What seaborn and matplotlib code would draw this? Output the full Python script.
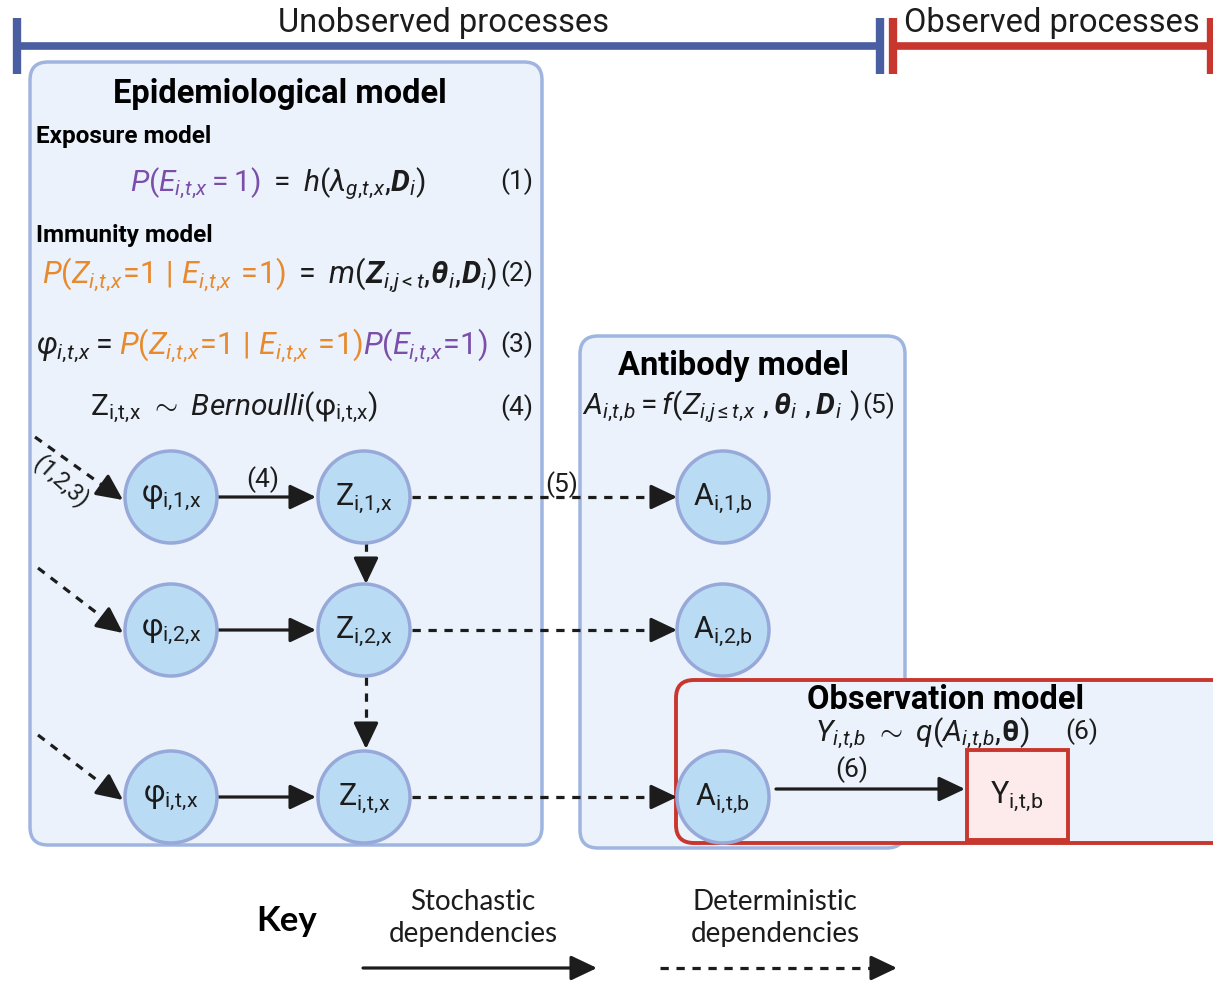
import matplotlib
matplotlib.use('Agg')
import matplotlib.pyplot as plt
import seaborn as sns
from matplotlib.patches import FancyBboxPatch, Circle, Rectangle
import numpy as np

# text content
phi_labels = [r'$\mathregular{φ_{i,\!1,\!x}}$', r'$\mathregular{φ_{i,\!2,\!x}}$', r'$\mathregular{φ_{i,\!t,\!x}}$']
z_labels = [r'$\mathregular{Z_{i,\!1,\!x}}$', r'$\mathregular{Z_{i,\!2,\!x}}$', r'$\mathregular{Z_{i,\!t,\!x}}$']
a_labels = [r'$\mathregular{A_{i,\!1,\!b}}$', r'$\mathregular{A_{i,\!2,\!b}}$', r'$\mathregular{A_{i,\!t,\!b}}$']
y_label = r'$\mathregular{Y_{i,\!t,\!b}}$'
eq_numbers = ['(1)', '(2)', '(3)', '(4)', '(5)', '(6)']
key_labels = ['Stochastic\ndependencies', 'Deterministic\ndependencies']

sns.set_theme(style='white')
plt.rcParams['font.family'] = ['Roboto', 'DejaVu Sans']
plt.rcParams['mathtext.fontset'] = 'custom'
plt.rcParams['mathtext.rm'] = 'Roboto'
plt.rcParams['mathtext.it'] = 'Roboto:italic'
plt.rcParams['mathtext.bf'] = 'Roboto:bold'
plt.rcParams['mathtext.bfit'] = 'Roboto:italic:bold'

blue_bar = '#4a5ea2'
red_bar = '#c8372e'
box_fill = '#ebf2fb'
box_edge = '#9fb5e0'
node_fill = '#badbf4'
node_edge = '#97a9d9'
purple = '#7b4ea9'
orange = '#e8892c'
ink = '#1c1c1c'

W, H = 1213, 981
fig = plt.figure(figsize=(W / 100, H / 100), dpi=100)
ax = fig.add_axes([0, 0, 1, 1])
ax.set_xlim(0, W)
ax.set_ylim(H, 0)
ax.axis('off')
renderer = fig.canvas.get_renderer()


def rich(x, y, parts, size, ha='left'):
    # parts: (text, colour) pairs, or a number = extra gap in px
    items = []
    for p in parts:
        if isinstance(p, (int, float)):
            items.append((None, p))
        else:
            t = ax.text(0, y, p[0], color=p[1], fontsize=size, va='baseline', ha='left', zorder=6)
            items.append((t, t.get_window_extent(renderer).width))
    total = sum(w for _, w in items)
    x0 = x - total / 2 if ha == 'center' else x
    for t, w in items:
        if t is not None:
            t.set_x(x0)
        x0 += w


def head(x0, y0, x1, y1):
    ax.annotate('', xy=(x1, y1), xytext=(x0, y0), zorder=4,
                arrowprops=dict(arrowstyle='-|>,head_length=0.8,head_width=0.38',
                                lw=2.3, color=ink, shrinkA=0, shrinkB=0,
                                mutation_scale=20))


def arrow(x0, y0, x1, y1, dashed=False):
    if not dashed:
        head(x0, y0, x1, y1)
        return
    d = np.array([x1 - x0, y1 - y0], float)
    u = d / np.hypot(*d)
    mx, my = np.array([x1, y1]) - u * 24
    ax.plot([x0, mx], [y0, my], color=ink, lw=2.3, ls=(0, (2.6, 2.4)), zorder=4,
            solid_capstyle='butt', dash_capstyle='butt')
    head(mx, my, x1, y1)


def box(x0, y0, x1, y1, edge, fill, lw=2.5, z=1):
    ax.add_patch(FancyBboxPatch((x0, y0), x1 - x0, y1 - y0,
                                boxstyle='round,pad=0,rounding_size=18',
                                fc=fill, ec=edge, lw=lw, zorder=z))


def node(x, y, label):
    ax.add_patch(Circle((x, y), 46, fc=node_fill, ec=node_edge, lw=2.5, zorder=5))
    ax.text(x, y + 1, label, ha='center', va='center', fontsize=22, color=ink, zorder=6)


# top process bars
ax.plot([17, 880], [46, 46], color=blue_bar, lw=5.5, solid_capstyle='butt')
ax.plot([17, 17], [18, 74], color=blue_bar, lw=6, solid_capstyle='butt')
ax.plot([880, 880], [18, 74], color=blue_bar, lw=6, solid_capstyle='butt')
ax.plot([893, W], [46, 46], color=red_bar, lw=5.5, solid_capstyle='butt')
ax.plot([893, 893], [18, 74], color=red_bar, lw=6, solid_capstyle='butt')
ax.plot([1211, 1211], [18, 74], color=red_bar, lw=6, solid_capstyle='butt')
ax.text(443, 32, 'Unobserved processes', ha='center', va='baseline', fontsize=23.5, color=ink)
ax.text(904, 32, 'Observed processes', ha='left', va='baseline', fontsize=23.5, color=ink)

# model boxes
box(30, 62, 542, 845, box_edge, box_fill)
box(580, 336, 905, 848, box_edge, box_fill)
box(676, 680, 1250, 843, red_bar, box_fill, lw=2.8, z=2)

# epidemiological model text
ax.text(280, 103, 'Epidemiological model', ha='center', va='baseline', fontsize=23.5,
        fontweight='bold', color='black')
ax.text(36, 143, 'Exposure model', ha='left', va='baseline', fontsize=17.5,
        fontweight='bold', color='black')
rich(278, 191, [(r'$P(E_{i,\!t,\!x}=1)$', purple),
                (r'$\ =\ h(\lambda_{g,\!t,\!x},\!\mathbfit{D}_i)$', ink)], 21.5, ha='center')
ax.text(36, 242, 'Immunity model', ha='left', va='baseline', fontsize=17.5,
        fontweight='bold', color='black')
rich(42, 283, [(r'$P(Z_{i,\!t,\!x}\!=\!1\ |\ E_{i,\!t,\!x}\ \!=\!1)$', orange), 7,
               (r'$=\ m(\mathbfit{Z}_{i,\!j<t},\!\mathbfit{\theta}_i,\!\mathbfit{D}_i)$', ink)], 22)
rich(36, 354, [(r'$\varphi_{i,\!t,\!x}$', ink), 5, ('=', ink), 7,
               (r'$P(Z_{i,\!t,\!x}\!=\!1\ |\ E_{i,\!t,\!x}\ \!=\!1)$', orange),
               (r'$P(E_{i,\!t,\!x}\!=\!1)$', purple)], 22)
rich(90, 415, [(r'$\mathregular{Z_{i,\!t,\!x}}\ \sim\ \mathit{Bernoulli}\mathregular{(φ_{i,\!t,\!x})}$', ink)], 21.5)
for num, yy in zip(eq_numbers[:4], [189, 281, 352, 415]):
    ax.text(517, yy, num, ha='center', va='baseline', fontsize=19, color=ink)

# antibody and observation model text
ax.text(733, 375, 'Antibody model', ha='center', va='baseline', fontsize=23.5,
        fontweight='bold', color='black')
rich(582, 414, [(r'$A_{i,\!t,\!b}=f(Z_{i,\!j\leq t,\!x}\ ,\mathbfit{\theta}_i\ ,\mathbfit{D}_i\ )$', ink)], 21.5)
ax.text(879, 413, eq_numbers[4], ha='center', va='baseline', fontsize=19, color=ink)
ax.text(946, 709, 'Observation model', ha='center', va='baseline', fontsize=23.5,
        fontweight='bold', color='black')
rich(922, 741, [(r'$Y_{i,\!t,\!b}\ \sim\ q(A_{i,\!t,\!b},\!\mathbf{\theta})$', ink)], 21.5, ha='center')
ax.text(1082, 739, eq_numbers[5], ha='center', va='baseline', fontsize=19, color=ink)

# nodes
rows = [497, 630, 797]
for yy, pl, zl, al in zip(rows, phi_labels, z_labels, a_labels):
    node(171, yy, pl)
    node(364, yy, zl)
    node(723, yy, al)
ax.add_patch(Rectangle((967, 750), 101, 90, fc='#fdeaea', ec=red_bar, lw=2.8, zorder=5))
ax.text(1017, 796, y_label, ha='center', va='center', fontsize=22, color=ink, zorder=6)

# dependencies
for yy, start in zip(rows, [(35, 437), (38, 568), (38, 735)]):
    arrow(start[0], start[1], 123, yy + 3, dashed=True)
    arrow(218, yy, 316, yy)
    arrow(412, yy, 677, yy, dashed=True)
arrow(366, 543, 366, 584, dashed=True)
arrow(366, 677, 366, 749, dashed=True)
arrow(776, 789, 965, 789)
ax.text(263, 487, '(4)', ha='center', va='baseline', fontsize=19, color=ink)
ax.text(562, 492, '(5)', ha='center', va='baseline', fontsize=19, color=ink)
ax.text(852, 777, '(6)', ha='center', va='baseline', fontsize=19, color=ink)
ax.text(61, 482, '(1,2,3)', ha='center', va='center', fontsize=17, color=ink,
        rotation=-42, zorder=6)

# key
ax.text(287, 921, 'Key', ha='center', va='center', fontsize=25, fontweight='bold',
        family=['Lato', 'DejaVu Sans'], color='black')
for xx, lab in zip([473, 775], key_labels):
    ax.text(xx, 918, lab, ha='center', va='center', fontsize=20, linespacing=1.25,
            family=['Lato', 'DejaVu Sans'], color=ink)
arrow(363, 968, 597, 968)
arrow(660, 968, 897, 968, dashed=True)

fig.savefig('out.png', dpi=100)
